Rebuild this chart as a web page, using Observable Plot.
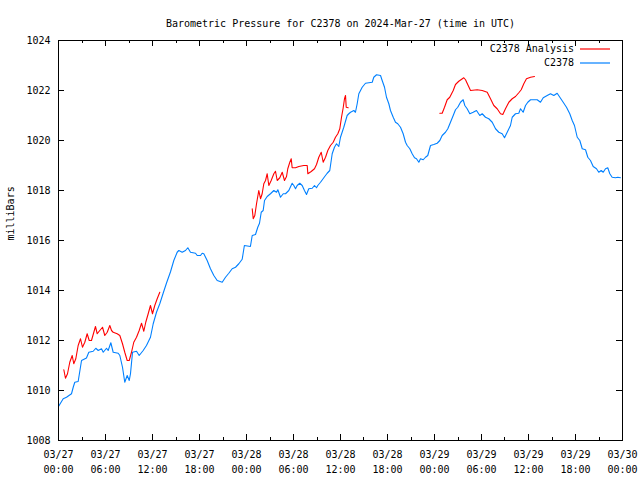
<!DOCTYPE html>
<html><head><meta charset="utf-8">
<script src="https://cdn.jsdelivr.net/npm/d3@7"></script>
<script src="https://cdn.jsdelivr.net/npm/@observablehq/plot@0.6"></script>
<style>body{margin:0;background:#fff} svg{display:block}</style>
</head><body><div id="chart"></div>
<script>
const title = "Barometric Pressure for C2378 on 2024-Mar-27 (time in UTC)";
const yLabel = "milliBars";
const seriesNames = ["C2378 Analysis", "C2378"];
const seriesColors = ["#ff0000", "#0080ff"];
const xTickHours = [0, 6, 12, 18, 24, 30, 36, 42, 48, 54, 60, 66, 72];
const xTickLabels = ["03/27\n00:00","03/27\n06:00","03/27\n12:00","03/27\n18:00","03/28\n00:00","03/28\n06:00","03/28\n12:00","03/28\n18:00","03/29\n00:00","03/29\n06:00","03/29\n12:00","03/29\n18:00","03/30\n00:00"];
const xMinorHours = [3, 9, 15, 21, 27, 33, 39, 45, 51, 57, 63, 69];
const yTicks = [1008, 1010, 1012, 1014, 1016, 1018, 1020, 1022, 1024];

// [hours since 03/27 00:00 UTC, milliBars]
const stationReadings = [
[0,1009.36],[0.6,1009.67],[1.02,1009.73],[1.66,1009.87],[1.88,1010.13],[2.08,1010.33],[2.51,1010.36],[2.94,1011.2],[3.57,1011.3],[3.87,1011.53],[4.43,1011.57],[4.76,1011.69],[5.07,1011.6],[5.49,1011.67],[5.71,1011.53],[6.13,1011.69],[6.34,1011.6],[6.68,1011.91],[6.98,1011.53],[7.62,1011.49],[7.83,1011.4],[8.17,1010.93],[8.46,1010.33],[8.77,1010.6],[9.03,1010.4],[9.19,1010.67],[9.45,1011.53],[9.96,1011.57],[10.3,1011.4],[10.81,1011.6],[11.23,1011.8],[11.74,1012.13],[12.09,1012.67],[12.51,1013.13],[12.93,1013.47],[13.37,1013.9],[13.79,1014.3],[14.3,1014.75],[14.72,1015.2],[15.15,1015.53],[15.36,1015.6],[15.79,1015.53],[16.21,1015.6],[16.51,1015.71],[16.85,1015.53],[17.49,1015.49],[17.71,1015.4],[18.13,1015.4],[18.34,1015.49],[18.55,1015.47],[18.98,1015.2],[19.4,1014.87],[19.83,1014.6],[20.26,1014.4],[20.9,1014.33],[21.32,1014.53],[21.74,1014.69],[22.17,1014.87],[22.6,1014.93],[23.02,1015.07],[23.45,1015.25],[23.73,1015.8],[24.5,1015.76],[24.73,1016.2],[25.15,1016.24],[25.44,1016.53],[25.66,1016.69],[25.88,1017.13],[26.13,1017.2],[26.3,1017.6],[26.64,1017.76],[27.06,1017.87],[27.49,1018.0],[27.83,1017.93],[28.0,1018.03],[28.34,1017.73],[28.69,1017.87],[28.98,1017.87],[29.4,1018.0],[29.83,1018.29],[30.04,1018.2],[30.26,1018.07],[30.47,1018.2],[30.8,1018.29],[31.11,1018.2],[31.4,1018.0],[31.66,1017.84],[31.95,1018.07],[32.39,1018.09],[32.68,1018.2],[32.94,1018.11],[33.1,1018.2],[33.45,1018.33],[33.87,1018.51],[34.3,1018.69],[34.63,1018.8],[34.94,1019.47],[35.23,1019.73],[35.49,1019.87],[35.78,1019.76],[36.0,1020.13],[36.42,1020.53],[36.85,1021.0],[37.06,1021.07],[37.28,1021.13],[37.7,1021.2],[37.91,1021.13],[38.13,1021.47],[38.34,1021.87],[38.77,1022.13],[39.19,1022.29],[40.05,1022.33],[40.25,1022.53],[40.6,1022.63],[41.11,1022.6],[41.32,1022.4],[41.62,1022.13],[41.87,1021.73],[42.17,1021.47],[42.38,1021.2],[42.73,1020.93],[43.02,1020.73],[43.31,1020.67],[43.66,1020.53],[44.0,1020.27],[44.3,1019.93],[44.51,1019.8],[44.85,1019.67],[45.15,1019.47],[45.45,1019.31],[45.7,1019.27],[46.0,1019.13],[46.21,1019.27],[46.56,1019.23],[46.85,1019.33],[47.14,1019.4],[47.49,1019.8],[47.91,1019.84],[48.34,1019.89],[48.68,1020.0],[48.98,1020.2],[49.4,1020.33],[49.7,1020.47],[50.04,1020.73],[50.39,1021.0],[50.68,1021.23],[50.97,1021.33],[51.32,1021.53],[51.66,1021.63],[51.87,1021.4],[52.17,1021.27],[52.51,1021.07],[52.94,1021.13],[53.36,1021.2],[53.78,1021.0],[54.09,1021.07],[54.51,1020.93],[54.93,1020.87],[55.37,1020.73],[55.79,1020.47],[56.21,1020.33],[56.64,1020.27],[56.94,1020.11],[57.28,1020.33],[57.7,1020.6],[57.92,1020.93],[58.34,1021.07],[58.76,1021.09],[58.98,1021.27],[59.32,1021.13],[59.62,1021.4],[59.91,1021.53],[60.26,1021.63],[61.11,1021.63],[61.53,1021.53],[61.88,1021.71],[62.39,1021.8],[62.81,1021.87],[63.23,1021.8],[63.66,1021.89],[64.0,1021.73],[64.43,1021.53],[64.85,1021.33],[65.27,1021.07],[65.58,1020.8],[65.87,1020.6],[66.22,1020.13],[66.55,1020.0],[66.86,1019.67],[67.28,1019.63],[67.57,1019.33],[67.91,1019.2],[68.26,1018.96],[68.68,1018.87],[68.97,1018.73],[69.28,1018.8],[69.54,1018.73],[69.83,1018.87],[70.12,1018.91],[70.38,1018.67],[70.68,1018.53],[71.11,1018.51],[71.4,1018.53],[71.74,1018.51]
];

const analysisRun1 = [
[0.68,1010.83],[0.89,1010.49],[1.15,1010.67],[1.44,1011.13],[1.75,1011.4],[1.95,1011.07],[2.21,1011.27],[2.51,1011.8],[2.81,1012.07],[3.06,1011.73],[3.36,1011.93],[3.66,1012.27],[3.92,1012.0],[4.21,1012.0],[4.51,1012.33],[4.72,1012.56],[4.94,1012.27],[5.27,1012.4],[5.62,1012.53],[5.91,1012.2],[6.22,1012.33],[6.55,1012.6],[6.77,1012.4],[6.98,1012.33],[7.49,1012.27],[7.83,1012.2],[8.17,1011.87],[8.46,1011.53],[8.77,1011.2],[9.03,1011.2],[9.32,1011.53],[9.61,1011.93],[9.96,1012.13],[10.3,1012.4],[10.6,1012.69],[10.89,1012.37],[11.14,1012.73],[11.45,1013.07],[11.74,1013.4],[12.0,1013.07],[12.29,1013.4],[12.6,1013.67],[12.93,1013.93]
];
const analysisRun2 = [
[24.73,1017.27],[24.86,1016.87],[25.06,1017.0],[25.28,1017.47],[25.57,1018.0],[25.79,1017.67],[26.0,1017.87],[26.21,1018.27],[26.43,1018.4],[26.64,1018.67],[26.85,1018.2],[27.15,1018.4],[27.49,1018.67],[27.7,1018.77],[27.92,1018.4],[28.25,1018.51],[28.56,1018.73],[28.85,1018.4],[29.11,1018.56],[29.27,1018.87],[29.53,1019.13],[29.71,1019.27],[29.83,1018.91],[30.26,1018.91],[30.68,1018.96],[31.31,1019.0],[31.75,1019.0],[31.83,1018.67],[32.26,1018.76],[32.68,1018.87],[32.94,1019.04],[33.23,1019.33],[33.54,1019.53],[33.79,1019.13],[34.09,1019.33],[34.38,1019.6],[34.72,1019.8],[35.07,1019.93],[35.36,1020.13],[35.66,1020.27],[35.91,1020.47],[36.13,1020.93],[36.34,1021.3],[36.51,1021.67],[36.64,1021.8],[36.73,1021.33],[36.98,1021.31]
];
const analysisRun3 = [
[48.68,1021.09],[48.98,1021.09],[49.28,1021.33],[49.62,1021.63],[49.95,1021.73],[50.39,1022.0],[50.68,1022.24],[51.1,1022.37],[51.74,1022.51],[51.96,1022.43],[52.3,1022.2],[52.6,1022.0],[53.45,1022.03],[54.09,1022.0],[54.73,1021.93],[55.15,1021.67],[55.57,1021.4],[56.0,1021.27],[56.43,1021.07],[56.72,1021.04],[57.06,1021.27],[57.49,1021.53],[57.92,1021.67],[58.34,1021.76],[58.76,1021.91],[59.07,1022.03],[59.4,1022.27],[59.74,1022.47],[60.26,1022.53],[60.77,1022.56]
];

const station = stationReadings.map(([h, p]) => ({h, p}));
const analysis = [analysisRun1, analysisRun2, analysisRun3].flatMap((run, r) => run.map(([h, p]) => ({h, p, run: r})));

const MAJOR = 6, MINOR = 3;
function frameTicks(index, {x, y}, values, dims) {
  const L = dims.marginLeft, R = dims.width - dims.marginRight, T = dims.marginTop, B = dims.height - dims.marginBottom;
  const g = d3.create("svg:g").style("stroke", "black").style("stroke-width", "1px").attr("shape-rendering", "crispEdges");
  const add = (x1, y1, x2, y2) => g.append("line").attr("x1", x1).attr("y1", y1).attr("x2", x2).attr("y2", y2);
  for (const h of xTickHours) { const px = Math.round(x(h)) + 0.5; add(px, B, px, B - MAJOR); add(px, T, px, T + MAJOR); }
  for (const h of xMinorHours) { const px = Math.round(x(h)) + 0.5; add(px, B, px, B - MINOR); add(px, T, px, T + MINOR); }
  for (const v of yTicks) { const py = Math.round(y(v)) + 0.5; add(L, py, L + MAJOR, py); add(R, py, R - MAJOR, py); }
  return g.node();
}
function legend(index, scales, values, dims) {
  const R = dims.width - dims.marginRight, T = dims.marginTop;
  const g = d3.create("svg:g").attr("fill", "none");
  seriesNames.forEach((name, i) => {
    const yy = T + 9 + i * 14;
    g.append("text").attr("x", R - 48).attr("y", yy).attr("dy", "0.32em").attr("text-anchor", "end")
      .attr("fill", "black").attr("stroke", "none").text(name);
    g.append("path").attr("d", `M${R - 42},${yy}H${R - 12}`)
      .attr("stroke", seriesColors[i]).attr("stroke-width", 1.2).attr("fill", "none");
  });
  return g.node();
}

const chart = Plot.plot({
  width: 640, height: 480,
  marginLeft: 58, marginRight: 18, marginTop: 40, marginBottom: 40,
  style: {fontFamily: "'DejaVu Sans Mono', monospace", fontSize: "10px", background: "#fff", color: "black"},
  x: {type: "linear", domain: [0, 72]},
  y: {domain: [1008, 1024]},
  marks: [
    Plot.axisX({ticks: xTickHours, tickSize: 0, tickPadding: 7, lineHeight: 1.5, tickFormat: d => xTickLabels[xTickHours.indexOf(d)], label: null}),
    Plot.axisY({ticks: yTicks, tickSize: 0, tickPadding: 8, tickFormat: d => String(d), label: null}),
    Plot.line(analysis, {x: "h", y: "p", z: "run", stroke: seriesColors[0], strokeWidth: 1.1}),
    Plot.line(station, {x: "h", y: "p", stroke: seriesColors[1], strokeWidth: 1.1}),
    Plot.frame({stroke: "black", strokeWidth: 1}),
    frameTicks,
    legend,
    Plot.text([title], {frameAnchor: "top", dy: -21, fill: "black"}),
    Plot.text([yLabel], {frameAnchor: "left", rotate: -90, dx: -48, fill: "black"})
  ]
});
document.getElementById("chart").appendChild(chart);
</script>
</body></html>
